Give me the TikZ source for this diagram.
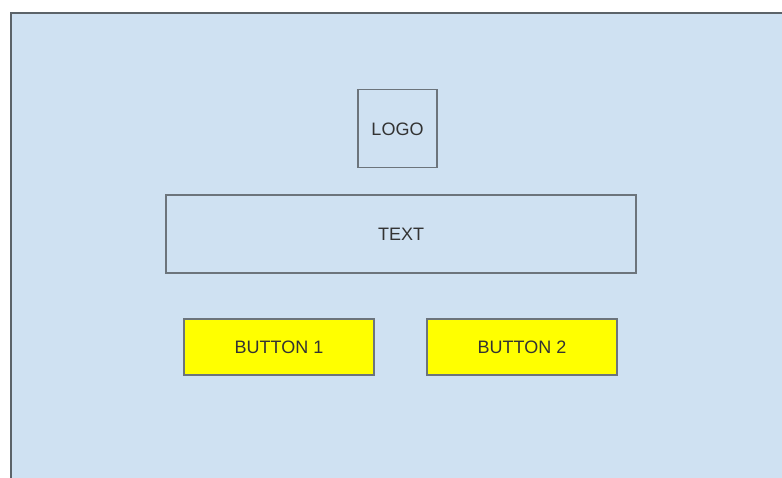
\documentclass[tikz,border=0pt]{standalone}
\usepackage{fontspec}
\setmainfont{Liberation Sans}
\definecolor{bgblue}{RGB}{207,225,242}
\definecolor{edge}{RGB}{108,116,124}
\definecolor{btn}{RGB}{255,255,0}
\begin{document}
\begin{tikzpicture}[x=1pt,y=-1pt,
  box/.style={draw=edge,line width=1.4pt,fill=none,font=\fontsize{18}{20}\selectfont,text=black!80,text height=13pt,text depth=0pt},
  btnbox/.style={box,fill=btn}]
\useasboundingbox (0,0) rectangle (782,477);
\fill[white] (0,0) rectangle (782,477);
\draw[draw=edge!85!black,line width=2pt,fill=bgblue] (10.5,12.5) rectangle (800,500);
\node[box,minimum width=79pt,minimum height=78pt] (logo) at (397.5,128.5) {LOGO};
\node[box,minimum width=470pt,minimum height=78pt] (text) at (401,234) {TEXT};
\node[btnbox,minimum width=190pt,minimum height=56pt] (b1) at (279,347) {BUTTON 1};
\node[btnbox,minimum width=190pt,minimum height=56pt] (b2) at (522,347) {BUTTON 2};
\end{tikzpicture}
\end{document}
